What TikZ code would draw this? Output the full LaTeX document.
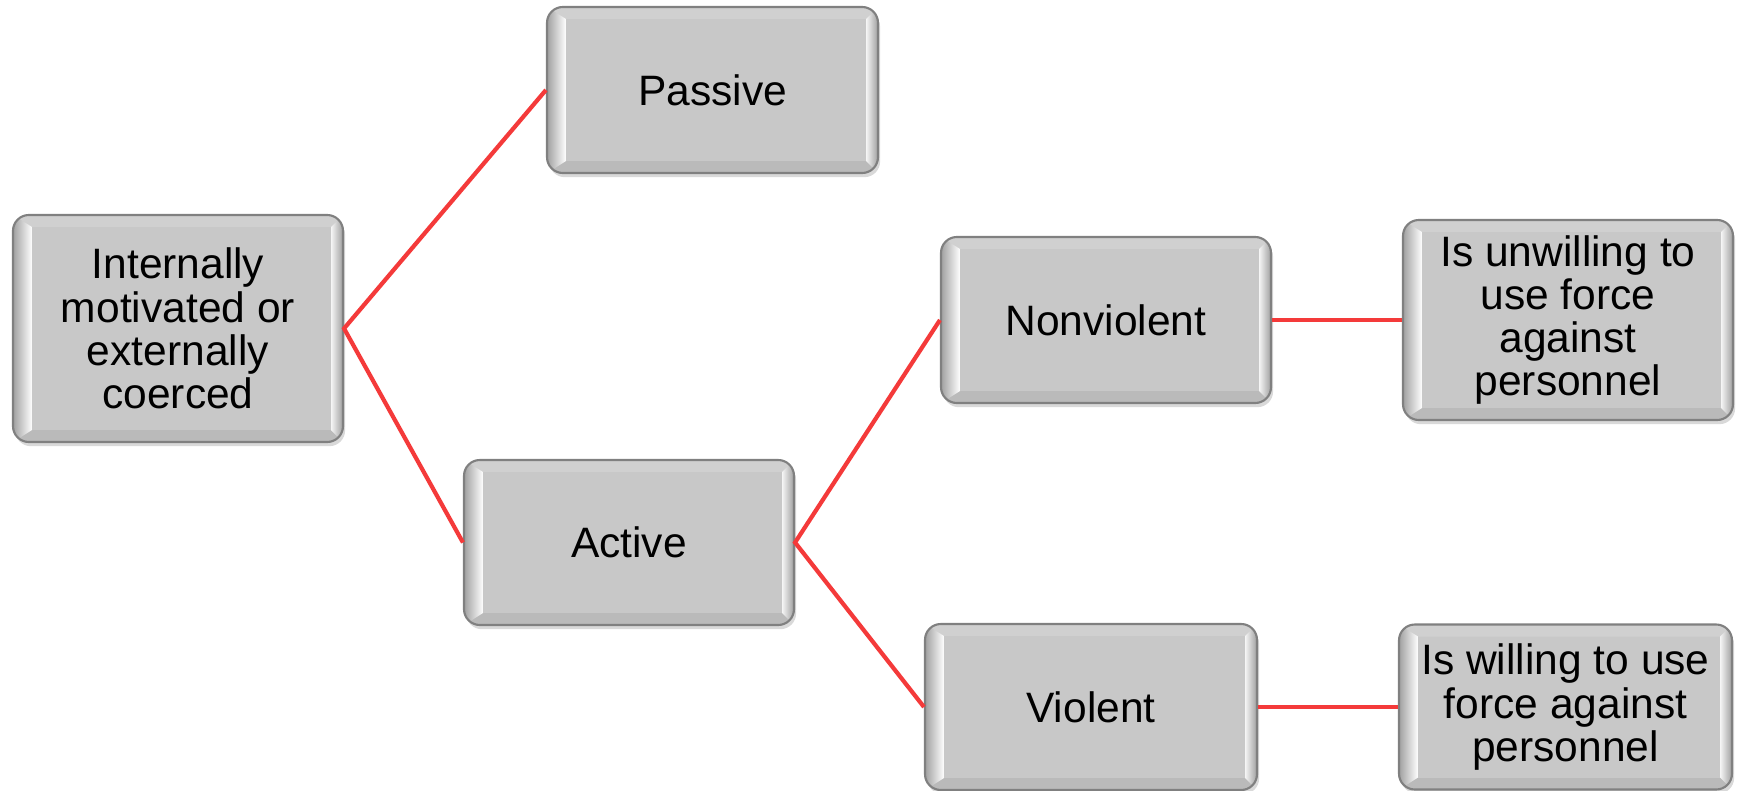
\documentclass[tikz,border=0pt]{standalone}
\usepackage{fontspec}
\setmainfont{Liberation Sans}
\usetikzlibrary{calc,shadows}

\definecolor{facegray}{RGB}{200,200,200}
\definecolor{rimtop}{RGB}{208,208,208}
\definecolor{rimbottom}{RGB}{186,186,186}
\definecolor{rimside}{RGB}{160,160,160}
\definecolor{edgegray}{RGB}{128,128,128}
\definecolor{linkred}{RGB}{244,58,58}

\tikzset{
  card/.style={
    rounded corners=4.5pt, draw=edgegray, line width=0.6pt, fill=facegray,
    drop shadow={shadow xshift=0.6pt, shadow yshift=-1.2pt, opacity=0.3},
    align=center, inner sep=0pt, text=black,
    font=\fontsize{12.1pt}{12.3pt}\selectfont,
    path picture={
      \path let \p1=(path picture bounding box.south west),
                \p2=(path picture bounding box.north east) in
        coordinate (sw) at (\p1) coordinate (ne) at (\p2)
        coordinate (nw) at (\x1,\y2) coordinate (se) at (\x2,\y1)
        coordinate (isw) at ($(\p1)+(0.19,0.12)$)
        coordinate (ine) at ($(\p2)+(-0.12,-0.12)$)
        coordinate (inw) at ($(\x1,\y2)+(0.19,-0.12)$)
        coordinate (ise) at ($(\x2,\y1)+(-0.12,0.12)$);
      % bevel bands round the flat face
      \fill[rimtop, sharp corners] (nw) -- (ne) -- (ine) -- (inw) -- cycle;
      \fill[rimbottom, sharp corners] (sw) -- (se) -- (ise) -- (isw) -- cycle;
      \shade[left color=rimside, right color=white, sharp corners]
        (sw) -- (nw) -- (inw) -- (isw) -- cycle;
      \shade[left color=white!92!gray, right color=rimside, sharp corners]
        (se) -- (ne) -- (ine) -- (ise) -- cycle;
      \fill[facegray, sharp corners] (isw) rectangle (ine);
    }
  },
  link/.style={draw=linkred, line width=1.2pt, line join=miter}
}

\begin{document}
\begin{tikzpicture}
  \useasboundingbox (0,0) rectangle (17.37,-7.91);

  \node[card, minimum width=3.30cm, minimum height=2.27cm] (src) at (1.78,-3.285)
    {Internally\\motivated or\\externally\\coerced};
  \node[card, minimum width=3.31cm, minimum height=1.66cm] (passive) at (7.125,-0.90) {Passive};
  \node[card, minimum width=3.30cm, minimum height=1.65cm] (active) at (6.29,-5.425) {Active};
  \node[card, minimum width=3.30cm, minimum height=1.66cm] (nonviol) at (11.06,-3.20) {Nonviolent};
  \node[card, minimum width=3.32cm, minimum height=1.66cm] (violent) at (10.91,-7.07) {Violent};
  \node[card, minimum width=3.30cm, minimum height=2.00cm] (unwill) at (15.68,-3.20)
    {Is unwilling to\\use force\\against\\personnel};
  \node[card, minimum width=3.33cm, minimum height=1.65cm] (will) at (15.655,-7.07)
    {Is willing to use\\force against\\personnel};

  % branches of the tree
  \draw[link] (passive.west) -- (src.east) -- (active.west);
  \draw[link] (nonviol.west) -- (active.east) -- (violent.west);
  \draw[link] (nonviol.east) -- (unwill.west);
  \draw[link] (violent.east) -- (will.west);
\end{tikzpicture}
\end{document}
